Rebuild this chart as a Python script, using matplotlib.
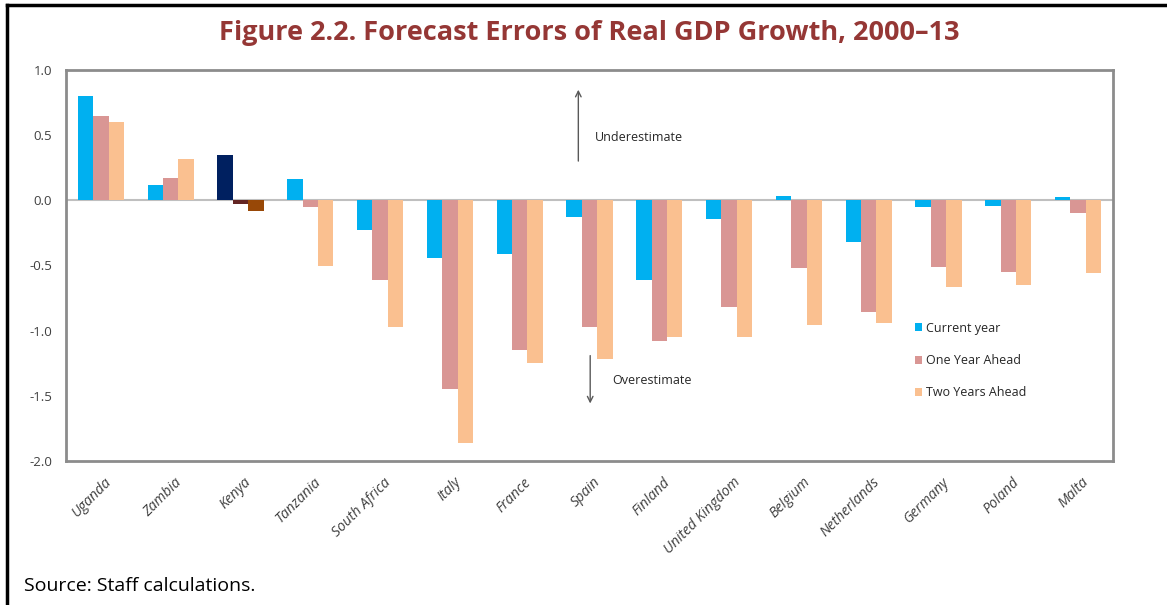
import matplotlib
matplotlib.use("Agg")
import matplotlib.pyplot as plt
import numpy as np
from matplotlib.lines import Line2D
from matplotlib.patches import Patch

countries = ["Uganda", "Zambia", "Kenya", "Tanzania", "South Africa", "Italy", "France",
             "Spain", "Finland", "United Kingdom", "Belgium", "Netherlands", "Germany",
             "Poland", "Malta"]
current_year = [0.80, 0.115, 0.35, 0.165, -0.23, -0.445, -0.41, -0.125, -0.61, -0.145,
                0.035, -0.32, -0.05, -0.045, 0.025]
one_year_ahead = [0.645, 0.17, -0.03, -0.05, -0.61, -1.445, -1.15, -0.97, -1.08, -0.815,
                  -0.52, -0.855, -0.51, -0.55, -0.095]
two_years_ahead = [0.60, 0.32, -0.085, -0.50, -0.97, -1.86, -1.245, -1.215, -1.045, -1.045,
                   -0.955, -0.945, -0.665, -0.65, -0.555]
series_names = ["Current year", "One Year Ahead", "Two Years Ahead"]
series_colors = ["#00B0F0", "#D99694", "#FAC090"]
kenya_colors = ["#002060", "#632523", "#984807"]
yticks = [1.0, 0.5, 0.0, -0.5, -1.0, -1.5, -2.0]

plt.rcParams['font.family'] = ['Open Sans', 'DejaVu Sans']

fig = plt.figure(figsize=(11.67, 6.05), dpi=100)
ax = fig.add_axes([66/1167, 1-461/605, (1113-66)/1167, (461-70)/605])

x = np.arange(len(countries))
w = 0.22
for i, (vals, col) in enumerate(zip([current_year, one_year_ahead, two_years_ahead], series_colors)):
    cols = [kenya_colors[i] if c == "Kenya" else col for c in countries]
    ax.bar(x + (i - 1) * w, vals, width=w, color=cols, zorder=2)

ax.set_xlim(-0.5, len(countries) - 0.5)
ax.set_ylim(-2.0, 1.0)
ax.set_yticks(yticks)
ax.set_yticklabels([f"{t:.1f}" for t in yticks], fontsize=9.5, color="#404040")
ax.tick_params(axis='y', length=0, pad=10)
ax.set_xticks(x + 0.05)
ax.set_xticklabels(countries, rotation=45, ha='right', rotation_mode='anchor',
                   fontsize=10.3, color="#404040", style='italic')
ax.tick_params(axis='x', length=0, pad=10)
for s in ax.spines.values():
    s.set_color("#8C8C8C")
    s.set_linewidth(2)
ax.axhline(0, color="#BFBFBF", linewidth=1.5, zorder=1)

# annotations
ax.annotate("", xy=(6.84, 0.87), xytext=(6.84, 0.28),
            arrowprops=dict(arrowstyle="->", color="#595959", lw=1))
ax.text(7.08, 0.48, "Underestimate", fontsize=9, color="#262626", va='center')
ax.annotate("", xy=(7.01, -1.58), xytext=(7.01, -1.17),
            arrowprops=dict(arrowstyle="->", color="#595959", lw=1))
ax.text(7.33, -1.38, "Overestimate", fontsize=9, color="#262626", va='center')

handles = [Patch(facecolor=c, edgecolor='none') for c in series_colors]
leg = ax.legend(handles, series_names, loc='upper left', bbox_to_anchor=(0.80, 0.385),
                frameon=False, fontsize=9, handlelength=0.6, handleheight=0.6,
                handletextpad=0.3, labelspacing=1.55)
for t in leg.get_texts():
    t.set_color("#262626")

fig.text(589/1167, 1-33/605, "Figure 2.2. Forecast Errors of Real GDP Growth, 2000\u201313",
         ha='center', va='center', fontsize=19.5, fontweight='bold', color="#953735")
fig.text(24/1167, 1-586/605, "Source: Staff calculations.", ha='left', va='center',
         fontsize=14, color="black")

# outer frame lines
fig.add_artist(Line2D([7/1167, 7/1167], [0, 1-5/605], color='black', lw=2.5,
                      transform=fig.transFigure))
fig.add_artist(Line2D([7/1167, 1], [1-5/605, 1-5/605], color='black', lw=2.5,
                      transform=fig.transFigure))

fig.savefig("out.png", dpi=100)
